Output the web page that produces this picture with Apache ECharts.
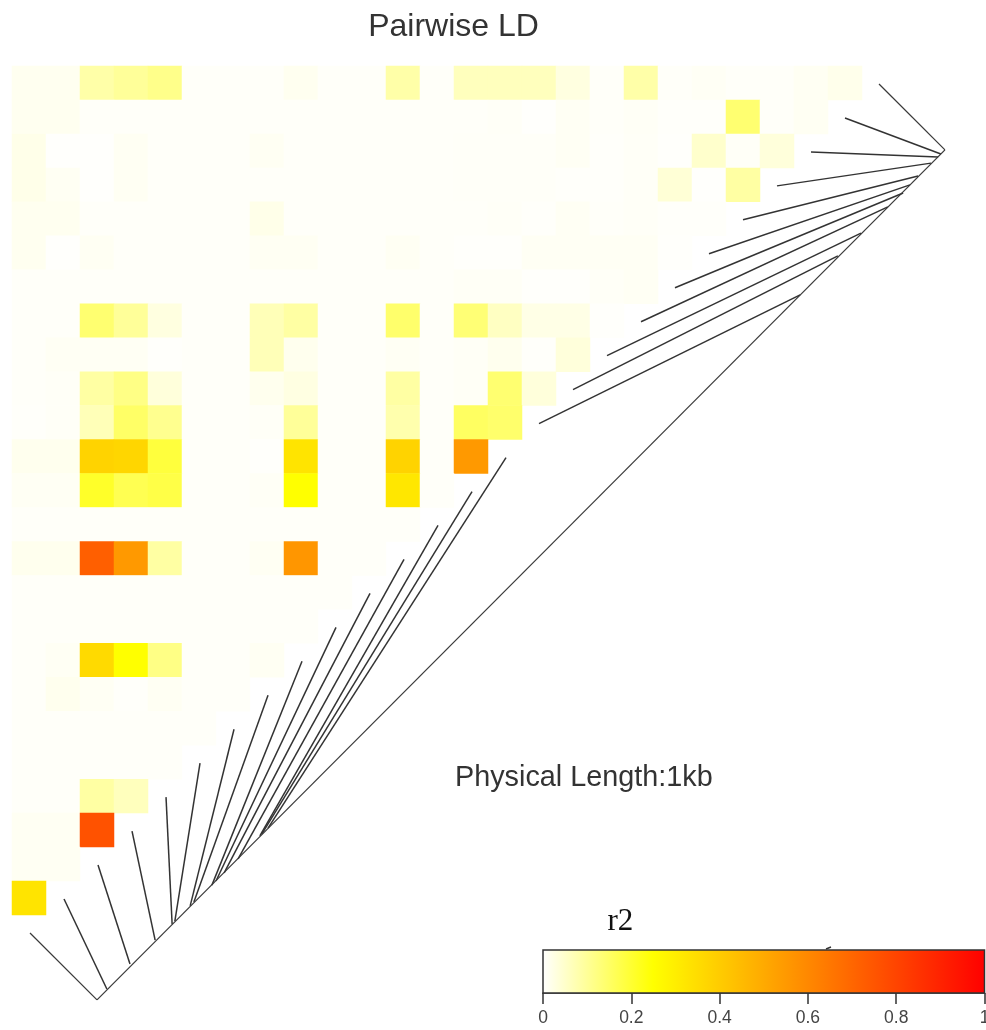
<!DOCTYPE html>
<html><head><meta charset="utf-8">
<style>html,body{margin:0;padding:0;background:#fff}#c{width:986px;height:1030px}</style>
<script src="https://cdn.jsdelivr.net/npm/echarts@6/dist/echarts.min.js"></script>
</head><body><div id="c"></div>
<script>
// r2 by row; row k holds cells for columns 0..24-k
const r2Row00=[.015,.015,.085,.1,.115,.006,.006,.006,.015,.006,.006,.085,.006,.065,.065,.065,.03,.006,.085,.006,.01,.006,.006,.012,.02];
const r2Row01=[.015,.015,.006,.006,.006,.006,.006,.006,.006,.006,.006,.006,.006,.006,.008,.003,.011,.006,.009,.005,.005,.14,.006,.012];
const r2Row02=[.022,.003,.003,.012,.006,.006,.006,.012,.006,.006,.006,.006,.006,.007,.007,.007,.011,.005,.008,.004,.05,.008,.035];
const r2Row03=[.022,.012,.003,.012,.006,.006,.006,.006,.006,.006,.006,.006,.006,.007,.007,.007,.005,.005,.008,.04,.003,.09];
const r2Row04=[.015,.015,.006,.006,.006,.006,.006,.022,.006,.006,.006,.006,.006,.006,.008,.005,.011,.006,.008,.005,.005];
const r2Row05=[.015,.003,.012,.006,.006,.006,.006,.012,.012,.006,.006,.012,.006,.004,.004,.011,.011,.011,.011,.004];
const r2Row06=[.006,.006,.006,.006,.006,.006,.006,.006,.006,.006,.006,.006,.006,.009,.009,.004,.004,.008,.011];
const r2Row07=[.006,.006,.14,.1,.03,.006,.006,.07,.09,.006,.006,.145,.006,.135,.06,.025,.025,.004];
const r2Row08=[.006,.011,.011,.011,.004,.006,.006,.07,.017,.006,.006,.011,.006,.009,.017,.005,.035];
const r2Row09=[.006,.008,.09,.12,.035,.006,.006,.017,.028,.006,.006,.09,.006,.009,.14,.035];
const r2Row10=[.005,.008,.07,.15,.11,.006,.006,.008,.1,.006,.006,.08,.006,.155,.145];
const r2Row11=[.017,.017,.38,.37,.19,.006,.006,.004,.33,.006,.006,.38,.006,.55];
const r2Row12=[.011,.011,.21,.17,.18,.006,.006,.009,.25,.006,.006,.32,.006];
const r2Row13=[.006,.006,.006,.006,.006,.006,.006,.006,.006,.006,.006,.006];
const r2Row14=[.017,.017,.72,.55,.09,.006,.006,.012,.56,.006,.006];
const r2Row15=[.006,.006,.006,.006,.006,.006,.006,.006,.006,.006];
const r2Row16=[.006,.006,.006,.006,.006,.006,.006,.006,.006];
const r2Row17=[.006,.011,.36,.25,.12,.006,.006,.012];
const r2Row18=[.006,.017,.011,.005,.012,.006,.006];
const r2Row19=[.006,.006,.006,.006,.006,.006];
const r2Row20=[.006,.006,.006,.006,.006];
const r2Row21=[.006,.006,.09,.065];
const r2Row22=[.012,.012,.76];
const r2Row23=[.012,.012];
const r2Row24=[.33];
const r2Rows=[r2Row00,r2Row01,r2Row02,r2Row03,r2Row04,r2Row05,r2Row06,r2Row07,r2Row08,r2Row09,r2Row10,r2Row11,r2Row12,r2Row13,r2Row14,r2Row15,r2Row16,r2Row17,r2Row18,r2Row19,r2Row20,r2Row21,r2Row22,r2Row23,r2Row24];
const snpLabels=[];for(let i=0;i<25;i++)snpLabels.push(String(i));

// SNP connector lines, expressed in heatmap cell units
const tipCol=[.53,1.53,2.53,3.53,4.53,5.53,6.53,7.53,8.53,9.53,10.53,11.53,12.53,13.53,14.53,15.5,16.5,17.5,18.5,19.5,20.5,21.5,22.5,23.5,24.5,25.5];
const tipRow=[25.53,24.53,23.53,22.53,21.53,20.53,19.53,18.53,17.53,16.53,15.53,14.53,13.53,12.53,11.53,10.53,9.53,8.53,7.53,6.53,5.53,4.53,3.53,2.53,1.53,.53];
const baseCol=[2.50,2.79,3.47,4.21,4.71,4.79,5.24,5.35,5.88,6.00,6.24,6.65,7.29,7.35,7.53,23.18,24.29,24.97,25.76,26.21,26.41,26.65,27.03,27.24,27.32,27.44];
const baseRow=[27.50,27.18,26.44,25.74,25.27,25.18,24.73,24.62,24.12,24.00,23.76,23.35,22.67,22.61,22.44,6.74,5.59,4.92,4.15,3.74,3.50,3.24,2.86,2.68,2.59,2.47];
const spineCol=[2.50,27.44];
const spineRow=[27.50,2.47];

const colorTicks=[0,.2,.4,.6,.8,1];
const heatColors=['#ffffff','#ffff00','#ffaa00','#ff5500','#ff0000'];

const heatData=[];
r2Rows.forEach((row,r)=>row.forEach((v,c)=>heatData.push([c,r,v])));

const chart=echarts.init(document.getElementById('c'),null,{renderer:'canvas'});
const FONT='"Liberation Sans"';
const treeStyle={color:'#333',width:1.5};
const outerStyle={color:'#3a3a3a',width:1.25};
const treeSeries=tipCol.map((c,i)=>({
  type:'line',xAxisIndex:1,yAxisIndex:1,symbol:'none',silent:true,animation:false,clip:false,
  lineStyle:(i===0||i===tipCol.length-1)?outerStyle:treeStyle,data:[[c,tipRow[i]],[baseCol[i],baseRow[i]]]
}));
treeSeries.push({type:'line',xAxisIndex:1,yAxisIndex:1,symbol:'none',silent:true,animation:false,clip:false,
  lineStyle:outerStyle,data:[[spineCol[0],spineRow[0]],[spineCol[1],spineRow[1]]]});

chart.setOption({
  backgroundColor:'#fff',animation:false,
  title:{text:'Pairwise LD',left:448.5,top:6,textAlign:'center',textStyle:{fontFamily:FONT,fontSize:32,fontWeight:'normal',color:'#333'}},
  tooltip:{show:false},
  grid:[
    {left:12,top:66,width:850,height:849,outerBoundsMode:'none'},
    {left:12,top:66,width:952,height:950.88,outerBoundsMode:'none'},
    {left:543,top:950,width:441.5,height:43,outerBoundsMode:'none'}
  ],
  xAxis:[
    {type:'category',gridIndex:0,data:snpLabels,show:false},
    {type:'value',gridIndex:1,min:0,max:28,show:false},
    {type:'value',gridIndex:2,min:0,max:1,interval:.2,
      axisLine:{show:true,lineStyle:{color:'#333',width:1.5}},
      axisTick:{show:true,length:11,lineStyle:{color:'#333',width:1.5}},
      axisLabel:{show:true,fontFamily:FONT,fontSize:17.5,color:'#444',margin:16,showMinLabel:true,showMaxLabel:true,hideOverlap:false,
        formatter:v=>colorTicks.includes(+v.toFixed(1))?String(+v.toFixed(1)):''},
      splitLine:{show:false}}
  ],
  yAxis:[
    {type:'category',gridIndex:0,data:snpLabels,inverse:true,show:false},
    {type:'value',gridIndex:1,min:0,max:28,inverse:true,show:false},
    {type:'value',gridIndex:2,min:0,max:1,show:false}
  ],
  visualMap:{show:false,type:'continuous',seriesIndex:0,min:0,max:1,dimension:2,inRange:{color:heatColors}},
  series:[
    {type:'heatmap',xAxisIndex:0,yAxisIndex:0,data:heatData,silent:true,animation:false,itemStyle:{borderWidth:0},progressive:0},
    ...treeSeries,
    {type:'custom',xAxisIndex:2,yAxisIndex:2,silent:true,animation:false,clip:false,data:[[0,1]],
      renderItem:(p,api)=>{
        const a=api.coord([api.value(0),api.value(1)]),b=api.coord([api.value(1),api.value(0)]);
        return {type:'rect',shape:{x:a[0],y:a[1],width:b[0]-a[0],height:b[1]-a[1]},
          style:{stroke:'#333',lineWidth:1.5,fill:new echarts.graphic.LinearGradient(0,0,1,0,
            heatColors.map((c,i)=>({offset:i/(heatColors.length-1),color:c})))}};
      }}
  ],
  graphic:[
    {type:'text',left:455,top:764,style:{text:'Physical Length:1kb',fontFamily:FONT,fontSize:28.8,fill:'#333'}},
    {type:'text',left:607.5,top:906,style:{text:'r2',fontFamily:'"Liberation Serif"',fontSize:31,fill:'#111'}},
    {type:'line',shape:{x1:826,y1:949,x2:831,y2:947},style:{stroke:'#333',lineWidth:1.5}}
  ]
});
</script></body></html>
